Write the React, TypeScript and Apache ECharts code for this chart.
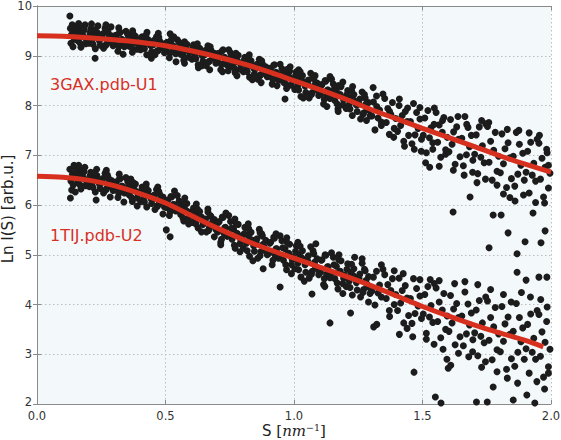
import React, { useEffect, useRef } from "react";
import * as echarts from "echarts";

// 3GAX.pdb-U1 experimental points [s, ln I]
const GAX_POINTS: number[][] = [
  [0.128,9.80],[0.130,9.55],[0.132,9.25],[0.134,9.42],[0.137,9.62],[0.140,9.18],[0.143,9.48],[0.146,9.33],[0.148,9.58],
  [0.153,9.57],[0.159,9.30],[0.165,9.46],[0.171,9.17],[0.177,9.39],[0.183,9.52],[0.190,9.24],[0.196,9.35],[0.162,9.65],[0.187,9.62],
  [0.203,9.25],[0.209,9.54],[0.215,9.32],[0.221,9.43],[0.227,9.14],[0.233,9.47],[0.240,9.36],[0.246,9.21],[0.226,8.95],[0.212,9.64],[0.237,9.60],
  [0.253,9.37],[0.259,9.15],[0.265,9.55],[0.271,9.24],[0.277,9.46],[0.283,9.31],[0.290,9.40],[0.296,9.20],[0.268,9.62],[0.288,9.58],
  [0.303,9.25],[0.309,9.40],[0.315,9.09],[0.321,9.47],[0.327,9.22],[0.333,9.31],[0.340,9.18],[0.346,9.49],[0.318,9.56],[0.335,9.03],
  [0.353,9.43],[0.359,9.19],[0.365,9.33],[0.371,9.07],[0.377,9.27],[0.383,9.39],[0.390,9.13],[0.396,9.23],[0.372,9.50],
  [0.403,9.12],[0.409,9.38],[0.415,9.18],[0.421,9.28],[0.427,9.02],[0.433,9.32],[0.440,9.22],[0.446,9.08],[0.428,9.47],[0.445,8.95],
  [0.453,9.22],[0.459,9.02],[0.465,9.38],[0.471,9.10],[0.477,9.30],[0.483,9.16],[0.490,9.24],[0.496,9.06],[0.472,9.45],
  [0.503,9.10],[0.509,9.24],[0.515,8.96],[0.521,9.30],[0.527,9.08],[0.533,9.16],[0.540,9.04],[0.546,9.32],[0.518,9.44],[0.532,9.38],[0.541,8.88],
  [0.553,9.27],[0.559,9.03],[0.565,9.17],[0.571,8.91],[0.577,9.11],[0.583,9.23],[0.590,8.97],[0.596,9.07],[0.574,8.85],
  [0.603,8.93],[0.609,9.22],[0.615,9.00],[0.621,9.11],[0.627,8.82],[0.633,9.15],[0.640,9.04],[0.646,8.89],[0.628,8.76],[0.642,8.80],
  [0.653,9.02],[0.659,8.80],[0.665,9.20],[0.671,8.89],[0.677,9.11],[0.683,8.96],[0.690,9.05],[0.696,8.85],[0.672,8.72],
  [0.703,8.88],[0.709,9.03],[0.715,8.72],[0.721,9.10],[0.727,8.85],[0.733,8.94],[0.740,8.81],[0.746,9.12],[0.722,8.68],[0.744,8.70],
  [0.753,9.06],[0.759,8.79],[0.765,8.95],[0.771,8.66],[0.777,8.88],[0.783,9.01],[0.790,8.73],[0.796,8.84],[0.778,8.60],
  [0.803,8.68],[0.809,8.97],[0.815,8.75],[0.821,8.86],[0.827,8.57],[0.833,8.90],[0.840,8.79],[0.846,8.64],[0.826,9.02],[0.838,8.52],
  [0.853,8.75],[0.859,8.53],[0.865,8.93],[0.871,8.62],[0.877,8.84],[0.883,8.69],[0.890,8.78],[0.896,8.58],[0.872,8.46],
  [0.903,8.59],[0.909,8.74],[0.915,8.43],[0.921,8.81],[0.927,8.56],[0.933,8.65],[0.940,8.52],[0.946,8.83],[0.934,8.40],
  [0.953,8.74],[0.959,8.47],[0.965,8.63],[0.971,8.34],[0.977,8.56],[0.983,8.69],[0.990,8.41],[0.996,8.52],[0.965,8.13],[0.985,8.78],
  [1.003,8.32],[1.009,8.68],[1.015,8.40],[1.021,8.54],[1.027,8.18],[1.033,8.60],[1.040,8.46],[1.046,8.26],[1.018,8.72],[1.036,8.15],
  [1.053,8.43],[1.059,8.15],[1.065,8.65],[1.071,8.26],[1.077,8.54],[1.083,8.34],[1.090,8.45],[1.096,8.20],[1.082,8.60],
  [1.103,8.22],[1.109,8.42],[1.115,8.03],[1.121,8.50],[1.127,8.20],[1.133,8.31],[1.140,8.14],[1.146,8.53],[1.128,7.98],[1.140,8.58],
  [1.153,8.43],[1.159,8.10],[1.165,8.29],[1.171,7.93],[1.177,8.21],[1.183,8.38],[1.190,8.01],[1.196,8.15],[1.172,7.88],[1.190,8.47],
  [1.203,7.94],[1.209,8.30],[1.215,8.02],[1.221,8.16],[1.227,7.80],[1.233,8.22],[1.240,8.08],[1.246,7.88],[1.228,8.38],
  [1.253,8.03],[1.259,7.73],[1.265,8.27],[1.271,7.85],[1.277,8.15],[1.283,7.94],[1.290,8.06],[1.296,7.79],[1.308,8.36],[1.282,7.70],
  [1.303,7.79],[1.309,8.07],[1.315,7.51],[1.321,8.19],[1.327,7.75],[1.333,7.91],[1.340,7.67],[1.346,8.23],[1.322,7.98],[1.340,7.60],
  [1.353,8.14],[1.359,7.66],[1.365,7.94],[1.371,7.42],[1.377,7.82],[1.383,8.06],[1.390,7.54],[1.396,7.74],[1.372,7.88],[1.388,7.36],
  [1.403,7.48],[1.409,8.00],[1.415,7.60],[1.421,7.80],[1.427,7.28],[1.433,7.88],[1.440,7.68],[1.446,7.40],[1.410,8.13],[1.430,7.18],[1.442,7.95],
  [1.453,7.68],[1.459,7.23],[1.465,8.04],[1.471,7.41],[1.477,7.86],[1.483,7.54],[1.490,7.73],[1.496,7.32],[1.468,7.12],[1.490,7.96],[1.495,7.08],
  [1.503,7.40],[1.509,7.75],[1.515,7.05],[1.521,7.90],[1.527,7.35],[1.533,7.55],[1.540,7.25],[1.546,7.95],[1.512,6.85],[1.528,6.76],[1.545,7.62],[1.540,7.12],
  [1.553,7.86],[1.559,7.26],[1.565,7.61],[1.571,6.96],[1.577,7.46],[1.583,7.76],[1.590,7.11],[1.596,7.36],[1.565,6.78],[1.590,7.02],[1.578,7.70],
  [1.603,7.07],[1.609,7.72],[1.615,7.22],[1.621,7.47],[1.627,6.82],[1.633,7.57],[1.640,7.32],[1.646,6.97],[1.619,5.86],[1.620,6.70],[1.638,7.78],
  [1.653,7.34],[1.659,6.79],[1.665,7.78],[1.671,7.01],[1.677,7.56],[1.683,7.17],[1.690,7.40],[1.696,6.90],[1.662,6.60],[1.685,6.16],[1.672,7.62],[1.695,6.66],
  [1.703,7.02],[1.709,7.41],[1.715,6.63],[1.721,7.57],[1.727,6.96],[1.733,7.19],[1.740,6.85],[1.746,7.63],[1.712,6.45],[1.730,7.70],[1.745,6.52],
  [1.753,7.58],[1.759,6.86],[1.765,7.28],[1.771,6.50],[1.777,7.10],[1.783,7.46],[1.790,6.68],[1.796,6.98],[1.775,5.80],[1.806,5.80],[1.790,6.40],[1.758,7.66],[1.759,5.14],
  [1.803,6.65],[1.809,7.43],[1.815,6.83],[1.821,7.13],[1.827,6.35],[1.833,7.25],[1.840,6.95],[1.846,6.53],[1.833,5.44],[1.830,7.52],[1.815,6.22],[1.840,6.15],
  [1.853,6.98],[1.859,6.38],[1.865,7.46],[1.871,6.62],[1.877,7.22],[1.883,6.80],[1.890,7.04],[1.896,6.50],[1.860,6.08],[1.875,7.50],[1.893,6.20],[1.868,5.02],[1.868,4.65],
  [1.903,6.66],[1.909,7.08],[1.915,6.24],[1.921,7.26],[1.927,6.60],[1.933,6.84],[1.940,6.48],[1.946,7.32],[1.915,7.45],[1.930,5.84],[1.940,6.05],[1.899,5.26],[1.903,4.49],
  [1.953,7.24],[1.959,6.52],[1.965,6.94],[1.971,6.16],[1.977,6.76],[1.983,7.12],[1.990,6.34],[1.996,6.64],[1.955,7.40],[1.975,6.04],[1.990,6.80],[1.985,7.05],[1.961,5.24],[1.977,5.48],[1.953,4.55],[1.984,4.55]
];

// extra 3GAX points in the dense low-s band
const GAX_POINTS_DENSE: number[][] = [
  [0.156,9.48],[0.168,9.25],[0.180,9.40],[0.193,9.31],[0.174,9.55],
  [0.206,9.46],[0.218,9.23],[0.230,9.38],[0.243,9.30],[0.224,9.52],
  [0.256,9.44],[0.268,9.21],[0.280,9.36],[0.293,9.28],[0.274,9.50],
  [0.306,9.41],[0.318,9.18],[0.330,9.33],[0.343,9.25],[0.324,9.47],
  [0.356,9.38],[0.368,9.17],[0.380,9.31],[0.393,9.23],[0.374,9.44],
  [0.406,9.35],[0.418,9.14],[0.430,9.28],[0.443,9.20],[0.424,9.41],
  [0.456,9.31],[0.468,9.10],[0.480,9.24],[0.493,9.16],[0.474,9.37],
  [0.506,9.27],[0.518,9.06],[0.530,9.20],[0.543,9.12],[0.524,9.33],
  [0.556,9.22],[0.568,9.01],[0.580,9.15],[0.593,9.07],[0.574,9.28],
  [0.606,9.17],[0.618,8.94],[0.630,9.09],[0.643,9.00],[0.624,9.24],
  [0.656,9.11],[0.668,8.88],[0.680,9.03],[0.693,8.95],[0.674,9.18],
  [0.706,9.05],[0.718,8.82],[0.730,8.97],[0.743,8.89],[0.724,9.12],
  [0.756,8.98],[0.768,8.75],[0.780,8.90],[0.793,8.82],[0.774,9.05],
  [0.806,8.91],[0.818,8.68],[0.830,8.83],[0.843,8.75],[0.824,8.98],
  [0.856,8.83],[0.868,8.60],[0.880,8.75],[0.893,8.67],[0.874,8.90],
  [0.906,8.75],[0.918,8.52],[0.930,8.67],[0.943,8.59],[0.924,8.82],
  [0.956,8.66],[0.968,8.43],[0.980,8.58],[0.993,8.50],[0.974,8.73],
  [1.006,8.60],[1.018,8.31],[1.030,8.50],[1.043,8.39],[1.024,8.68],
  [1.056,8.51],[1.068,8.22],[1.080,8.41],[1.093,8.30],[1.074,8.59],
  [1.106,8.41],[1.118,8.12],[1.130,8.31],[1.143,8.20],[1.124,8.49],
  [1.156,8.32],[1.168,8.03],[1.180,8.22],[1.193,8.11],[1.174,8.40],
  [1.206,8.22],[1.218,7.93],[1.230,8.12],[1.243,8.01],[1.224,8.30],
  [1.256,8.13],[1.268,7.82],[1.280,8.03],[1.293,7.90],[1.274,8.22]
];

// 1TIJ.pdb-U2 experimental points [s, ln I]
const TIJ_POINTS: number[][] = [
  [0.128,6.72],[0.130,6.14],[0.132,6.48],[0.135,6.30],[0.138,6.62],[0.141,6.40],[0.144,6.80],[0.147,6.55],[0.149,6.26],
  [0.153,6.72],[0.159,6.45],[0.165,6.61],[0.171,6.32],[0.177,6.54],[0.183,6.67],[0.190,6.39],[0.196,6.50],[0.162,6.80],[0.186,6.76],
  [0.203,6.37],[0.209,6.66],[0.215,6.44],[0.221,6.55],[0.227,6.26],[0.233,6.59],[0.240,6.48],[0.246,6.33],[0.230,6.10],[0.232,6.72],
  [0.253,6.46],[0.259,6.24],[0.265,6.64],[0.271,6.33],[0.277,6.55],[0.283,6.40],[0.290,6.49],[0.296,6.29],[0.270,6.70],[0.285,6.16],
  [0.303,6.31],[0.309,6.46],[0.315,6.15],[0.321,6.53],[0.327,6.28],[0.333,6.37],[0.340,6.24],[0.346,6.55],[0.320,6.62],[0.338,6.06],
  [0.353,6.47],[0.359,6.20],[0.365,6.36],[0.371,6.07],[0.377,6.29],[0.383,6.42],[0.390,6.14],[0.396,6.25],[0.365,6.52],[0.390,5.98],
  [0.403,6.07],[0.409,6.36],[0.415,6.14],[0.421,6.25],[0.427,5.96],[0.433,6.29],[0.440,6.18],[0.446,6.03],[0.425,6.42],
  [0.453,6.13],[0.459,5.91],[0.465,6.31],[0.471,6.00],[0.477,6.22],[0.483,6.07],[0.490,6.16],[0.496,5.96],[0.470,6.36],[0.490,5.82],
  [0.503,5.95],[0.509,6.10],[0.515,5.79],[0.521,6.17],[0.527,5.92],[0.533,6.01],[0.540,5.88],[0.546,6.19],[0.503,5.50],[0.518,5.36],[0.535,6.28],
  [0.553,6.08],[0.559,5.81],[0.565,5.97],[0.571,5.68],[0.577,5.90],[0.583,6.03],[0.590,5.75],[0.596,5.86],[0.575,6.14],[0.590,5.62],
  [0.603,5.65],[0.609,5.94],[0.615,5.72],[0.621,5.83],[0.627,5.54],[0.633,5.87],[0.640,5.76],[0.646,5.61],[0.620,6.02],[0.640,5.46],
  [0.653,5.68],[0.659,5.46],[0.665,5.86],[0.671,5.55],[0.677,5.77],[0.683,5.62],[0.690,5.71],[0.696,5.51],[0.665,5.92],[0.690,5.36],
  [0.703,5.46],[0.709,5.67],[0.715,5.25],[0.721,5.76],[0.727,5.43],[0.733,5.55],[0.740,5.37],[0.746,5.79],[0.715,5.20],[0.735,5.84],
  [0.753,5.67],[0.759,5.31],[0.765,5.52],[0.771,5.13],[0.777,5.43],[0.783,5.61],[0.790,5.22],[0.796,5.37],[0.770,5.72],[0.790,5.06],
  [0.803,5.13],[0.809,5.55],[0.815,5.23],[0.821,5.39],[0.827,4.97],[0.833,5.45],[0.840,5.29],[0.846,5.07],[0.822,5.62],[0.840,4.88],
  [0.853,5.25],[0.859,4.93],[0.865,5.51],[0.871,5.06],[0.877,5.38],[0.883,5.16],[0.890,5.29],[0.896,5.00],[0.868,5.44],[0.880,4.72],
  [0.903,5.03],[0.909,5.25],[0.915,4.80],[0.921,5.35],[0.927,4.99],[0.933,5.12],[0.940,4.93],[0.946,5.38],[0.946,4.35],[0.930,5.42],
  [0.953,5.28],[0.959,4.89],[0.965,5.12],[0.971,4.70],[0.977,5.02],[0.983,5.21],[0.990,4.80],[0.996,4.96],[0.972,5.34],[0.990,4.62],
  [1.003,4.72],[1.009,5.18],[1.015,4.83],[1.021,5.00],[1.027,4.55],[1.033,5.08],[1.040,4.90],[1.046,4.65],[1.015,5.25],[1.040,4.47],
  [1.053,4.88],[1.059,4.53],[1.065,5.16],[1.071,4.67],[1.077,5.02],[1.083,4.77],[1.090,4.92],[1.096,4.60],[1.070,4.21],[1.085,5.22],
  [1.103,4.65],[1.109,4.90],[1.115,4.40],[1.121,5.00],[1.127,4.61],[1.133,4.76],[1.140,4.54],[1.146,5.04],[1.140,3.63],[1.120,4.36],
  [1.153,4.95],[1.159,4.52],[1.165,4.77],[1.171,4.31],[1.177,4.67],[1.183,4.88],[1.190,4.42],[1.196,4.59],[1.175,5.00],[1.190,4.22],
  [1.203,4.36],[1.209,4.82],[1.215,4.47],[1.221,4.64],[1.227,4.19],[1.233,4.72],[1.240,4.54],[1.246,4.29],[1.220,3.83],[1.236,4.95],
  [1.253,4.53],[1.259,4.15],[1.265,4.83],[1.271,4.30],[1.277,4.68],[1.283,4.41],[1.290,4.56],[1.296,4.22],[1.265,4.92],[1.290,4.05],
  [1.303,4.27],[1.309,4.55],[1.315,3.99],[1.321,4.67],[1.327,4.23],[1.333,4.39],[1.340,4.15],[1.346,4.71],[1.310,3.55],[1.322,3.60],[1.340,4.80],
  [1.353,4.60],[1.359,4.12],[1.365,4.40],[1.371,3.88],[1.377,4.28],[1.383,4.52],[1.390,4.00],[1.396,4.20],[1.372,3.76],[1.390,4.68],
  [1.403,3.88],[1.409,4.53],[1.415,4.03],[1.421,4.28],[1.427,3.63],[1.433,4.38],[1.440,4.13],[1.446,3.78],[1.410,3.40],[1.425,4.62],[1.440,3.52],
  [1.453,4.12],[1.459,3.62],[1.465,4.52],[1.471,3.82],[1.477,4.32],[1.483,3.97],[1.490,4.17],[1.496,3.72],[1.467,2.64],[1.462,3.35],[1.490,4.50],
  [1.503,3.81],[1.509,4.20],[1.515,3.42],[1.521,4.36],[1.527,3.75],[1.533,3.98],[1.540,3.64],[1.546,4.42],[1.515,3.30],[1.530,4.50],[1.545,3.20],[1.550,2.14],
  [1.553,4.33],[1.559,3.66],[1.565,4.05],[1.571,3.33],[1.577,3.89],[1.583,4.22],[1.590,3.50],[1.596,3.77],[1.565,4.48],[1.580,3.10],[1.595,2.90],[1.572,2.02],
  [1.603,3.46],[1.609,4.18],[1.615,3.63],[1.621,3.91],[1.627,3.19],[1.633,4.02],[1.640,3.74],[1.646,3.35],[1.600,2.72],[1.610,2.78],[1.625,4.42],[1.640,3.02],
  [1.653,3.77],[1.659,3.17],[1.665,4.25],[1.671,3.41],[1.677,4.01],[1.683,3.59],[1.690,3.83],[1.696,3.29],[1.665,4.46],[1.680,2.95],[1.695,3.05],
  [1.703,3.43],[1.709,3.89],[1.715,2.97],[1.721,4.08],[1.727,3.36],[1.733,3.63],[1.740,3.23],[1.746,4.15],[1.715,4.40],[1.730,2.74],[1.745,2.85],[1.710,2.04],[1.752,2.04],
  [1.753,4.07],[1.759,3.28],[1.765,3.74],[1.771,2.89],[1.777,3.55],[1.783,3.94],[1.790,3.09],[1.796,3.41],[1.775,2.34],[1.765,4.30],[1.790,2.65],
  [1.803,3.05],[1.809,3.96],[1.815,3.26],[1.821,3.61],[1.827,2.70],[1.833,3.75],[1.840,3.40],[1.846,2.91],[1.815,4.20],[1.830,2.52],[1.845,4.05],
  [1.853,3.46],[1.859,2.76],[1.865,4.02],[1.871,3.04],[1.877,3.74],[1.883,3.25],[1.890,3.53],[1.896,2.90],[1.853,2.08],[1.870,2.42],[1.885,4.24],
  [1.903,3.11],[1.909,3.60],[1.915,2.62],[1.921,3.81],[1.927,3.04],[1.933,3.32],[1.940,2.90],[1.946,3.88],[1.906,2.18],[1.937,2.02],[1.920,4.15],[1.945,2.45],
  [1.953,3.80],[1.959,2.96],[1.965,3.45],[1.971,2.54],[1.977,3.24],[1.983,3.66],[1.990,2.75],[1.996,3.10],[1.960,4.10],[1.975,2.30],[1.990,2.62],[1.985,3.95]
];

// extra 1TIJ points in the dense low-s band
const TIJ_POINTS_DENSE: number[][] = [
  [0.156,6.63],[0.168,6.40],[0.180,6.55],[0.193,6.47],[0.174,6.70],
  [0.206,6.58],[0.218,6.35],[0.230,6.50],[0.243,6.42],[0.224,6.65],
  [0.256,6.53],[0.268,6.30],[0.280,6.45],[0.293,6.37],[0.274,6.60],
  [0.306,6.46],[0.318,6.23],[0.330,6.38],[0.343,6.30],[0.324,6.53],
  [0.356,6.38],[0.368,6.15],[0.380,6.30],[0.393,6.22],[0.374,6.45],
  [0.406,6.29],[0.418,6.06],[0.430,6.21],[0.443,6.13],[0.424,6.36],
  [0.456,6.20],[0.468,5.97],[0.480,6.12],[0.493,6.04],[0.474,6.27],
  [0.506,6.09],[0.518,5.86],[0.530,6.01],[0.543,5.93],[0.524,6.16],
  [0.556,5.97],[0.568,5.74],[0.580,5.89],[0.593,5.81],[0.574,6.04],
  [0.606,5.85],[0.618,5.62],[0.630,5.77],[0.643,5.69],[0.624,5.92],
  [0.656,5.72],[0.668,5.49],[0.680,5.64],[0.693,5.56],[0.674,5.79],
  [0.706,5.65],[0.718,5.31],[0.730,5.54],[0.743,5.41],[0.724,5.75],
  [0.756,5.53],[0.768,5.19],[0.780,5.42],[0.793,5.29],[0.774,5.63],
  [0.806,5.42],[0.818,5.08],[0.830,5.31],[0.843,5.18],[0.824,5.52],
  [0.856,5.32],[0.868,4.98],[0.880,5.21],[0.893,5.08],[0.874,5.42],
  [0.906,5.23],[0.918,4.89],[0.930,5.12],[0.943,4.99],[0.924,5.33],
  [0.956,5.14],[0.968,4.80],[0.980,5.03],[0.993,4.90],[0.974,5.24],
  [1.006,5.07],[1.018,4.70],[1.030,4.94],[1.043,4.80],[1.024,5.17],
  [1.056,4.98],[1.068,4.61],[1.080,4.85],[1.093,4.71],[1.074,5.08],
  [1.106,4.89],[1.118,4.52],[1.130,4.76],[1.143,4.62],[1.124,4.99],
  [1.156,4.80],[1.168,4.43],[1.180,4.67],[1.193,4.53],[1.174,4.90],
  [1.206,4.71],[1.218,4.34],[1.230,4.58],[1.243,4.44],[1.224,4.81],
  [1.256,4.61],[1.268,4.24],[1.280,4.48],[1.293,4.34],[1.274,4.71]
];

// Fitted curves [s, ln I]
const GAX_FIT: number[][] = [
  [0,9.40],[0.1,9.39],[0.2,9.36],[0.3,9.32],[0.4,9.27],[0.5,9.20],[0.6,9.10],[0.7,8.98],[0.8,8.84],[0.9,8.68],
  [1.0,8.50],[1.1,8.32],[1.2,8.13],[1.3,7.92],[1.4,7.73],[1.5,7.54],[1.6,7.36],[1.7,7.18],[1.8,6.99],[1.9,6.82],[2.0,6.66]
];
const TIJ_FIT: number[][] = [
  [0,6.58],[0.1,6.56],[0.2,6.50],[0.3,6.39],[0.4,6.23],[0.5,6.04],[0.6,5.79],[0.7,5.54],[0.8,5.31],[0.9,5.11],
  [1.0,4.93],[1.1,4.75],[1.2,4.57],[1.3,4.38],[1.4,4.17],[1.5,3.96],[1.6,3.77],[1.7,3.59],[1.8,3.43],[1.9,3.28],[1.97,3.15]
];

const SERIES_LABELS = ["3GAX.pdb-U1", "1TIJ.pdb-U2"];
const Y_AXIS_TITLE = "Ln I(S) [arb.u.]";
const X_AXIS_TITLE = "{a|S }{b|[}{i|nm}{s|−1}{b|]}";

const RED = "#d8301f";
const DOT = "#1c1c1c";
const FRAME = "#8a8a8a";
const SANS = "DejaVu Sans";

export default function App() {
  const ref = useRef<HTMLDivElement>(null);
  useEffect(() => {
    const chart = echarts.init(ref.current!, null, { renderer: "svg" });
    const baseX = { type: "value" as const, min: 0, max: 2, interval: 0.5 };
    const baseY = { type: "value" as const, min: 2, max: 10, interval: 1 };
    const frameLine = { show: true, lineStyle: { color: FRAME, width: 1 } };
    const tick = { show: true, inside: true, length: 4, lineStyle: { color: FRAME } };
    const gridLine = { show: true, lineStyle: { color: "#bdbdbd", type: [1.5, 2.5], width: 1 } };
    chart.setOption({
      animation: false,
      backgroundColor: "#ffffff",
      grid: {
        left: 37,
        right: 10,
        top: 6,
        bottom: 36,
        show: true,
        backgroundColor: "#f3f8fb",
        borderWidth: 0,
        outerBoundsMode: "none",
        containLabel: false,
      },
      xAxis: [
        {
          ...baseX,
          position: "bottom",
          axisLine: frameLine,
          axisTick: tick,
          axisLabel: {
            margin: 6,
            fontSize: 11.5,
            fontFamily: SANS,
            color: "#333",
            formatter: (v: number) => v.toFixed(1),
          },
          splitLine: gridLine,
        },
        {
          ...baseX,
          position: "top",
          axisLine: frameLine,
          axisTick: tick,
          axisLabel: { show: false },
          splitLine: { show: false },
        },
      ],
      yAxis: [
        {
          ...baseY,
          position: "left",
          axisLine: frameLine,
          axisTick: tick,
          axisLabel: {
            margin: 5,
            fontSize: 11.5,
            fontFamily: SANS,
            color: "#333",
            formatter: (v: number) => (v === 2 ? "{low|2}" : String(v)),
            rich: { low: { fontSize: 11.5, fontFamily: SANS, color: "#333", padding: [0, 0, 5, 0] } },
          },
          splitLine: gridLine,
        },
        {
          ...baseY,
          position: "right",
          axisLine: frameLine,
          axisTick: tick,
          axisLabel: { show: false },
          splitLine: { show: false },
        },
      ],
      graphic: [
        {
          type: "text",
          x: 8,
          y: 209,
          rotation: Math.PI / 2,
          style: {
            text: Y_AXIS_TITLE,
            fontSize: 15,
            fontFamily: SANS,
            fill: "#222",
            align: "center",
            textAlign: "center",
            verticalAlign: "middle",
            textVerticalAlign: "middle",
          },
        },
        {
          type: "text",
          x: 294,
          y: 431,
          style: {
            text: X_AXIS_TITLE,
            fontSize: 15,
            fontFamily: SANS,
            fill: "#222",
            align: "center",
            textAlign: "center",
            verticalAlign: "middle",
            textVerticalAlign: "middle",
            rich: {
              a: { fontSize: 15, fontFamily: SANS, fill: "#222", lineHeight: 18 },
              b: { fontSize: 15, fontFamily: "DejaVu Serif", fill: "#222", lineHeight: 18 },
              i: { fontSize: 15, fontFamily: "DejaVu Serif", fontStyle: "italic", fill: "#222", lineHeight: 18 },
              s: { fontSize: 9.5, fontFamily: "DejaVu Serif", fill: "#222", lineHeight: 10, verticalAlign: "top" },
            },
          },
        },
        {
          type: "text",
          x: 50,
          y: 84.5,
          z: 20,
          style: {
            text: SERIES_LABELS[0],
            fontSize: 16,
            fontFamily: SANS,
            fill: RED,
            align: "left",
            textAlign: "left",
            verticalAlign: "middle",
            textVerticalAlign: "middle",
          },
        },
        {
          type: "text",
          x: 50,
          y: 235.5,
          z: 20,
          style: {
            text: SERIES_LABELS[1],
            fontSize: 16,
            fontFamily: SANS,
            fill: RED,
            align: "left",
            textAlign: "left",
            verticalAlign: "middle",
            textVerticalAlign: "middle",
          },
        },
      ],
      series: [
        {
          name: SERIES_LABELS[0] + " data",
          type: "scatter",
          data: GAX_POINTS.concat(GAX_POINTS_DENSE),
          symbolSize: 7,
          itemStyle: { color: DOT, opacity: 1 },
          z: 2,
        },
        {
          name: SERIES_LABELS[1] + " data",
          type: "scatter",
          data: TIJ_POINTS.concat(TIJ_POINTS_DENSE),
          symbolSize: 7,
          itemStyle: { color: DOT, opacity: 1 },
          z: 2,
        },
        {
          name: SERIES_LABELS[0] + " fit",
          type: "line",
          data: GAX_FIT,
          showSymbol: false,
          smooth: 0.3,
          lineStyle: { color: RED, width: 5 },
          z: 5,
        },
        {
          name: SERIES_LABELS[1] + " fit",
          type: "line",
          data: TIJ_FIT,
          showSymbol: false,
          smooth: 0.3,
          lineStyle: { color: RED, width: 5 },
          z: 5,
        },
      ],
    });
    return () => chart.dispose();
  }, []);
  return (
    <div
      ref={ref}
      style={{ position: "absolute", left: 0, top: 0, width: 561, height: 440 }}
    />
  );
}
